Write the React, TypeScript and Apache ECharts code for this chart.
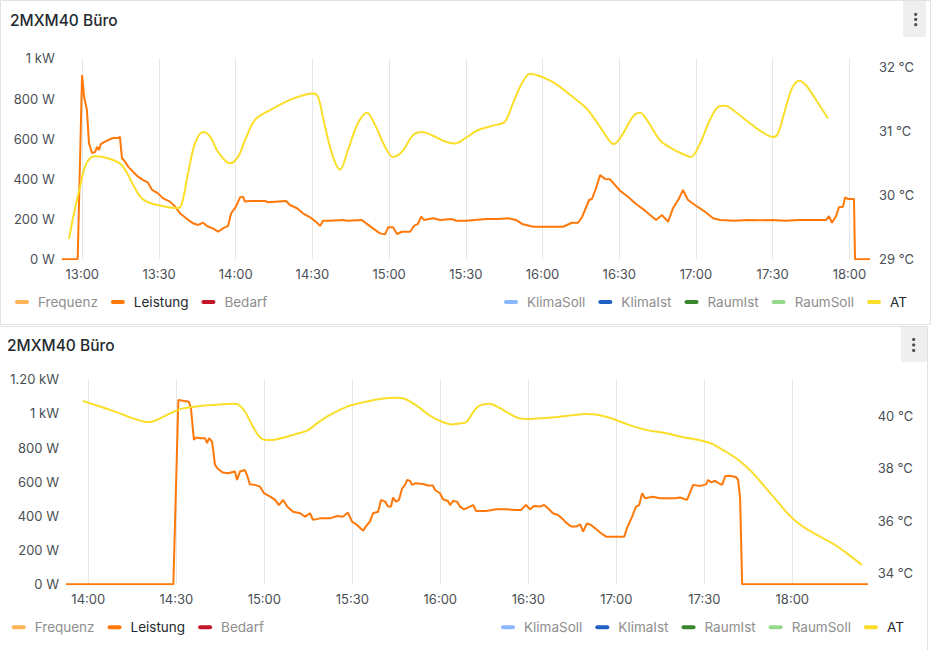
import React, { useEffect, useRef } from 'react';
import * as echarts from 'echarts';

// ---------- Panel 1 (times in minutes after 13:00) ----------
const p1Start = -8.06;
const p1End = 308.06;
const p1TickMinutes = [0, 30, 60, 90, 120, 150, 180, 210, 240, 270, 300];
const p1LeistungT = [-8, -1.8, -0.1, 0.7, 1.8, 2.6, 3.8, 5.0, 5.8, 6.5, 7.3, 8.9, 10.8, 12.0, 14.0, 14.7, 15.5, 16.7, 17.9, 19.8, 21.8, 23.7, 25.7, 27.3, 29.6, 31.6, 34.3, 36.3, 38.2, 40.6, 43.3, 45.3, 47.2, 49.2, 51.1, 53.1, 55.0, 57.0, 58.2, 60.1, 61.7, 62.9, 63.6, 65.6, 71.5, 72.6, 79.7, 81.2, 84.0, 86.3, 89.1, 91.8, 93.0, 94.1, 96.9, 102.0, 103.5, 109.4, 111.3, 113.7, 116.4, 118.4, 119.6, 121.5, 123.1, 125.0, 128.2, 129.7, 131.3, 132.5, 133.6, 137.2, 139.9, 144.6, 146.2, 150.1, 157.9, 162.6, 166.5, 169.6, 172.0, 176.3, 181.3, 188.0, 191.5, 193.9, 195.4, 198.2, 199.3, 200.9, 202.5, 204.4, 206.4, 208.3, 210.3, 213.4, 216.6, 220.1, 224.4, 226.7, 229.1, 231.0, 233.4, 234.9, 236.9, 239.6, 243.5, 246.7, 249.4, 255, 260, 265, 270, 275, 280, 285, 290.9, 292.0, 293.2, 294.8, 295.9, 297.5, 298.3, 299.5, 301.8, 302.2, 308.1];
const p1LeistungW = [0, 0, 917, 809, 743, 578, 528, 534, 560, 544, 574, 585, 597, 603, 603, 610, 504, 486, 461, 436, 411, 395, 381, 345, 328, 303, 287, 262, 229, 204, 179, 171, 182, 162, 154, 137, 154, 166, 229, 262, 308, 311, 287, 290, 290, 284, 290, 270, 254, 229, 209, 182, 166, 192, 192, 196, 192, 196, 176, 154, 129, 124, 159, 159, 126, 137, 137, 166, 176, 212, 196, 204, 196, 200, 192, 192, 200, 200, 204, 196, 176, 162, 162, 162, 182, 182, 209, 295, 300, 353, 419, 400, 398, 370, 341, 311, 275, 242, 196, 220, 187, 254, 303, 345, 295, 270, 237, 204, 196, 192, 196, 194, 196, 192, 196, 196, 196, 215, 182, 215, 259, 262, 308, 300, 300, 0, 0];
const p1AtT = [-5.2, -3.25, -0.9, 1.06, 3.01, 4.97, 8.88, 12.79, 15.52, 17.87, 20.61, 23.35, 26.48, 30.39, 34.3, 37.43, 39.0, 41.34, 44.08, 47.2, 49.94, 53.07, 57.76, 60.89, 63.63, 67.54, 73.41, 81.23, 87.1, 90.23, 92.18, 94.92, 98.05, 100.78, 103.91, 107.82, 111.34, 114.47, 118.38, 121.51, 125.03, 129.33, 132.85, 137.15, 141.85, 145.76, 150.06, 154.75, 161.79, 165.31, 168.44, 171.96, 175.09, 179.0, 184.86, 190.73, 196.6, 199.34, 202.46, 205.98, 207.94, 211.07, 215.37, 218.11, 221.24, 225.93, 230.63, 235.71, 238.06, 241.58, 245.49, 248.62, 251.35, 255.26, 260.35, 265.82, 270.13, 272.08, 274.82, 277.56, 280.3, 283.03, 286.16, 291.64];
const p1AtC = [29.32, 29.72, 30.13, 30.45, 30.58, 30.61, 30.59, 30.54, 30.47, 30.32, 30.11, 29.95, 29.88, 29.84, 29.81, 29.8, 29.88, 30.34, 30.81, 30.99, 30.92, 30.68, 30.5, 30.6, 30.86, 31.18, 31.33, 31.49, 31.57, 31.59, 31.54, 31.07, 30.6, 30.4, 30.71, 31.13, 31.29, 31.1, 30.76, 30.6, 30.68, 30.94, 30.99, 30.93, 30.84, 30.81, 30.9, 31.02, 31.1, 31.15, 31.44, 31.75, 31.9, 31.86, 31.75, 31.57, 31.38, 31.25, 31.07, 30.86, 30.8, 30.94, 31.23, 31.29, 31.15, 30.86, 30.73, 30.63, 30.6, 30.81, 31.18, 31.38, 31.4, 31.31, 31.15, 30.99, 30.91, 30.97, 31.33, 31.67, 31.79, 31.72, 31.54, 31.2];

// ---------- Panel 2 (times in minutes after 14:00) ----------
const p2Start = -7.6;
const p2End = 265.7;
const p2TickMinutes = [0, 30, 60, 90, 120, 150, 180, 210, 240];
const p2LeistungT = [-7.6, 29.0, 30.7, 34.3, 35.0, 36.0, 36.7, 38.1, 39.8, 40.5, 41.2, 42.2, 43.2, 44.2, 45.9, 47.6, 50.0, 50.7, 51.7, 53.4, 54.1, 55.1, 56.8, 58.5, 59.9, 62.0, 63.7, 65.0, 66.4, 67.8, 69.8, 72.2, 73.9, 75.6, 76.6, 79.0, 82.4, 84.8, 86.8, 88.5, 89.9, 91.6, 93.7, 95.0, 96.0, 97.1, 98.8, 99.8, 101.2, 102.2, 103.2, 103.9, 104.9, 105.9, 107.0, 108.0, 108.7, 109.7, 110.4, 111.4, 114.1, 115.8, 117.5, 118.2, 119.9, 120.9, 122.6, 123.3, 124.4, 125.7, 126.7, 128.1, 130.1, 131.2, 132.2, 135.6, 139.0, 142.4, 145.8, 147.5, 149.2, 150.6, 152.0, 154.0, 155.4, 156.7, 158.4, 160.1, 161.5, 162.9, 164.6, 166.3, 167.7, 168.7, 170.0, 171.4, 173.1, 174.8, 176.5, 179.9, 182.7, 183.7, 185.4, 186.7, 187.8, 188.8, 189.8, 192.5, 194.9, 198.3, 200.0, 201.7, 204.1, 204.8, 206.2, 208.6, 210.6, 211.3, 212.3, 213.7, 215.0, 216.1, 217.1, 218.5, 220.8, 221.5, 222.2, 222.9, 265.8];
const p2LeistungW = [0, 0, 1079, 1069, 1030, 845, 859, 855, 855, 826, 855, 835, 699, 675, 654, 650, 660, 611, 660, 669, 640, 585, 582, 572, 533, 513, 494, 464, 494, 455, 425, 416, 396, 416, 377, 386, 386, 400, 396, 420, 367, 347, 314, 347, 367, 416, 425, 494, 484, 455, 455, 508, 484, 494, 562, 582, 611, 605, 582, 591, 587, 578, 578, 552, 533, 498, 488, 464, 488, 484, 455, 439, 455, 464, 429, 429, 439, 439, 435, 435, 464, 439, 459, 455, 464, 445, 416, 406, 386, 361, 338, 338, 351, 308, 357, 347, 324, 299, 279, 279, 279, 332, 396, 455, 464, 533, 504, 513, 504, 504, 504, 508, 494, 523, 582, 576, 585, 611, 597, 605, 591, 582, 632, 636, 628, 613, 504, 0, 0];
const p2AtT = [-1.81, 3.99, 9.79, 15.24, 19.33, 21.04, 23.76, 27.85, 32.29, 38.08, 43.88, 49.34, 51.04, 53.43, 55.81, 57.86, 59.56, 61.95, 66.38, 70.47, 74.56, 77.97, 82.41, 88.2, 93.66, 99.45, 104.57, 107.98, 112.41, 116.5, 120.59, 124.0, 126.73, 128.78, 131.17, 133.21, 136.62, 140.03, 143.44, 146.85, 149.92, 156.06, 162.87, 169.69, 173.1, 176.51, 179.92, 184.35, 190.15, 196.97, 203.79, 209.58, 212.99, 216.4, 220.83, 224.24, 227.65, 231.06, 234.47, 237.88, 241.0, 244.4, 249.5, 254.6, 258.6, 263.7];
const p2AtC = [40.57, 40.36, 40.14, 39.91, 39.78, 39.77, 39.87, 40.1, 40.29, 40.38, 40.43, 40.47, 40.44, 40.16, 39.66, 39.28, 39.11, 39.08, 39.17, 39.3, 39.44, 39.72, 40.04, 40.36, 40.52, 40.65, 40.7, 40.65, 40.36, 40.01, 39.78, 39.68, 39.72, 39.76, 40.14, 40.39, 40.47, 40.32, 40.1, 39.91, 39.89, 39.92, 40.0, 40.08, 40.06, 39.97, 39.85, 39.66, 39.47, 39.34, 39.17, 39.05, 38.92, 38.7, 38.39, 38.07, 37.69, 37.24, 36.8, 36.35, 36.0, 35.72, 35.4, 35.08, 34.76, 34.32];

const leftSeriesNames = ['Frequenz', 'Leistung', 'Bedarf'];
const rightSeriesNames = ['KlimaSoll', 'KlimaIst', 'RaumIst', 'RaumSoll', 'AT'];
const seriesColors: Record<string, string> = {
  Frequenz: '#FFB357',
  Leistung: '#FF780A',
  Bedarf: '#C4162A',
  KlimaSoll: '#8AB8FF',
  KlimaIst: '#1F60C4',
  RaumIst: '#37872D',
  RaumSoll: '#96D98D',
  AT: '#FADE2A',
};
const activeNames = ['Leistung', 'AT'];
const panelTitle = '2MXM40 Büro';

const FONT = 'Inter, "Noto Sans", sans-serif';
const LABEL_COLOR = '#4a4f55';
const DARK = '#24292e';
const GRAY = '#8e8e8e';

// x values are minutes after midnight
const toMin = (hour: number, minutes: number) => hour * 60 + minutes;
const zip = (hour: number, t: number[], v: number[]) => t.map((m, i) => [toMin(hour, m), v[i]]);
const pad = (n: number) => (n < 10 ? '0' + n : '' + n);
const timeFmt = (v: number) => {
  const r = Math.round(v);
  return pad(Math.floor(r / 60)) + ':' + pad(r % 60);
};
const wattFmt = (v: number) => {
  if (v === 0) return '0 W';
  if (v >= 1000) return v === 1000 ? '1 kW' : (v / 1000).toFixed(2) + ' kW';
  return v + ' W';
};
const tempFmt = (v: number) => (Number.isInteger(v) ? v + ' °C' : '');

const ICON = 'path://M2,0 H12 A2,2 0 0 1 12,4 H2 A2,2 0 0 1 2,0 Z';

function buildPanel(
  gi: number,
  hour: number,
  start: number,
  end: number,
  tickMinutes: number[],
  leftGrid: any,
  rightGrid: any,
  wMax: number,
  tMin: number,
  tMax: number,
  tInterval: number,
  rightMargin: number,
  lt: number[],
  lw: number[],
  at: number[],
  ac: number[]
) {
  const grids = [leftGrid, rightGrid];
  const xMin = toMin(hour, start);
  const xMax = toMin(hour, end);
  const ticks = tickMinutes.map((m) => toMin(hour, m));
  const xAxes = [
    {
      type: 'value',
      gridIndex: gi,
      min: xMin,
      max: xMax,
      axisLine: { show: false },
      axisTick: { show: false, customValues: ticks },
      splitLine: { show: true, lineStyle: { color: '#e6e6e6', width: 1 } },
      axisLabel: {
        customValues: ticks,
        formatter: timeFmt,
        color: LABEL_COLOR,
        fontFamily: FONT,
        fontSize: 13,
        margin: 8,
        hideOverlap: false,
      },
    },
    { type: 'value', gridIndex: gi + 1, min: xMin, max: xMax, show: false },
  ];
  const yAxes = [
    {
      type: 'value',
      gridIndex: gi,
      position: 'left',
      min: 0,
      max: wMax,
      interval: 200,
      axisLine: { show: false },
      axisTick: { show: false },
      splitLine: { show: false },
      axisLabel: { formatter: wattFmt, color: LABEL_COLOR, fontFamily: FONT, fontSize: 13, margin: 7 },
    },
    {
      type: 'value',
      gridIndex: gi + 1,
      position: 'right',
      min: tMin,
      max: tMax,
      interval: tInterval,
      axisLine: { show: false },
      axisTick: { show: false },
      splitLine: { show: false },
      axisLabel: { formatter: tempFmt, color: LABEL_COLOR, fontFamily: FONT, fontSize: 13, margin: rightMargin },
    },
  ];
  const empty = (name: string) => ({
    name,
    type: 'line',
    xAxisIndex: gi,
    yAxisIndex: gi,
    data: [],
    color: seriesColors[name],
    showSymbol: false,
  });
  const series = [
    empty('Frequenz'),
    {
      name: 'Leistung',
      type: 'line',
      xAxisIndex: gi,
      yAxisIndex: gi,
      data: zip(hour, lt, lw),
      color: seriesColors.Leistung,
      showSymbol: false,
      lineStyle: { width: 2, color: seriesColors.Leistung },
      z: 3,
    },
    empty('Bedarf'),
    empty('KlimaSoll'),
    empty('KlimaIst'),
    empty('RaumIst'),
    empty('RaumSoll'),
    {
      name: 'AT',
      type: 'line',
      xAxisIndex: gi + 1,
      yAxisIndex: gi + 1,
      data: zip(hour, at, ac),
      color: seriesColors.AT,
      showSymbol: false,
      smooth: 0.35,
      clip: false,
      lineStyle: { width: 2, color: seriesColors.AT },
      z: 4,
    },
  ];
  return { grids, xAxes, yAxes, series };
}

const legendBase = (left: number, top: number, names: string[]) => ({
  left,
  top,
  orient: 'horizontal',
  padding: 0,
  itemWidth: 14,
  itemHeight: 4,
  itemGap: 13,
  icon: ICON,
  selectedMode: false,
  textStyle: { fontFamily: FONT, fontSize: 13.5, lineHeight: 14, padding: [0, 0, 0, 4] },
  data: names.map((n) => ({
    name: n,
    icon: ICON,
    itemStyle: { color: seriesColors[n] },
    textStyle: { color: activeNames.includes(n) ? DARK : GRAY },
  })),
});

export default function App() {
  const ref = useRef<HTMLDivElement>(null);
  useEffect(() => {
    if (!ref.current) return;
    const chart = echarts.init(ref.current, undefined, { renderer: 'svg' });
    const p1 = buildPanel(
      0, 13, p1Start, p1End, p1TickMinutes,
      { left: 61.7, right: 62, top: 58.3, bottom: 650 - 259.3 },
      { left: 61.7, right: 62, top: 67.3, bottom: 650 - 259.3 },
      1000, 29, 32, 1, 9,
      p1LeistungT, p1LeistungW, p1AtT, p1AtC
    );
    const p2 = buildPanel(
      2, 14, p2Start, p2End, p2TickMinutes,
      { left: 66, right: 64.3, top: 379.3, bottom: 650 - 584.3 },
      { left: 66, right: 64.3, top: 416, bottom: 650 - 573.3 },
      1200, 34, 40, 2, 10,
      p2LeistungT, p2LeistungW, p2AtT, p2AtC
    );
    const titleStyle = { fontFamily: FONT, fontSize: 15.5, fontWeight: 500, color: DARK, lineHeight: 18 };
    const dots = (cx: number, ys: number[]) =>
      ys.map((y) => ({ type: 'circle', shape: { cx, cy: y, r: 1.6 }, style: { fill: '#4a4f55' }, silent: true }));
    chart.setOption({
      animation: false,
      backgroundColor: '#ffffff',
      title: [
        { text: panelTitle, left: 10, top: 11, padding: 0, textStyle: titleStyle },
        { text: panelTitle, left: 7, top: 336, padding: 0, textStyle: titleStyle },
      ],
      grid: [...p1.grids, ...p2.grids],
      xAxis: [...p1.xAxes, ...p2.xAxes],
      yAxis: [...p1.yAxes, ...p2.yAxes],
      series: [...p1.series, ...p2.series],
      legend: [
        legendBase(15, 295, leftSeriesNames),
        legendBase(504, 295, rightSeriesNames),
        legendBase(11.7, 620.3, leftSeriesNames),
        legendBase(501, 620.3, rightSeriesNames),
      ],
      graphic: [
        { type: 'rect', shape: { x: 0.5, y: 0.5, width: 930, height: 324 }, style: { fill: 'none', stroke: '#e2e2e2', lineWidth: 1 }, silent: true, z: -1 },
        { type: 'rect', shape: { x: -0.5, y: 326.5, width: 928, height: 330 }, style: { fill: 'none', stroke: '#e2e2e2', lineWidth: 1 }, silent: true, z: -1 },
        { type: 'rect', shape: { x: 903, y: 1, width: 23, height: 36 }, style: { fill: '#efefef' }, silent: true },
        { type: 'rect', shape: { x: 901, y: 327, width: 26, height: 35 }, style: { fill: '#efefef' }, silent: true },
        ...dots(915.7, [14.3, 19.5, 24.7]),
        ...dots(913.7, [339.5, 345, 350.5]),
      ],
    });
    return () => chart.dispose();
  }, []);
  return (
    <div
      ref={ref}
      style={{ position: 'absolute', left: 0, top: 0, width: 932, height: 650, background: '#fff' }}
    />
  );
}
